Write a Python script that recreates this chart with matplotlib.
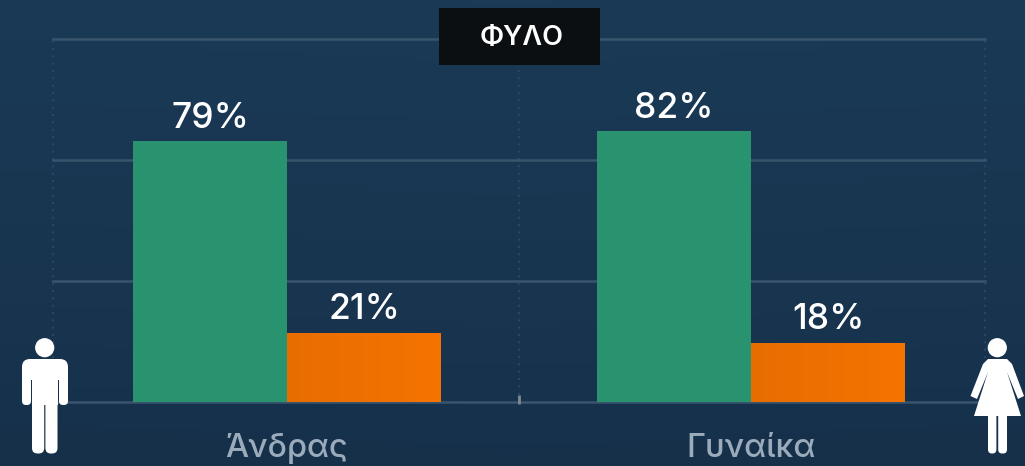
import matplotlib
matplotlib.use('Agg')
import matplotlib.pyplot as plt
from matplotlib.patches import Circle, FancyBboxPatch, Polygon
from matplotlib.colors import LinearSegmentedColormap
import numpy as np

# data
categories = ['Άνδρας', 'Γυναίκα']
yes_values = [79, 82]
no_values = [21, 18]
title = 'ΦΥΛΟ'

W, H = 1025, 466
FONT = 'Inter'
GREEN = '#29926f'
GRID = '#39556d'
DOT = '#2f4c65'


def round_box(ax, x0, y0, x1, y1, r):
    ax.add_patch(FancyBboxPatch((x0 + r, y0 + r), x1 - x0 - 2 * r, y1 - y0 - 2 * r,
                                boxstyle='round,pad=%f,rounding_size=%f' % (r, r),
                                fc='white', ec='none'))


def draw_man(ax):
    ax.add_patch(Circle((44.7, 347.7), 9.6, fc='white', ec='none'))
    round_box(ax, 22, 359, 68, 380, 8)
    round_box(ax, 22, 365, 31, 405, 4)
    round_box(ax, 59, 365, 68, 405, 4)
    ax.add_patch(Polygon([(32, 365), (58, 365), (58, 405), (32, 405)], fc='white', ec='none'))
    round_box(ax, 32, 395, 44.2, 453.5, 5.5)
    round_box(ax, 45.4, 395, 57.5, 453.5, 5.5)


def draw_woman(ax):
    ax.add_patch(Circle((997.3, 347.7), 9.6, fc='white', ec='none'))
    ax.add_patch(Polygon([(988, 359), (1007, 359), (1012, 364), (1024, 396), (1018, 399),
                          (1007, 372), (1021, 416), (974, 416), (988, 372), (977, 399),
                          (970.5, 396), (983, 364)], fc='white', ec='none', joinstyle='round'))
    round_box(ax, 988, 410, 996.4, 453.5, 4)
    round_box(ax, 998.2, 410, 1007, 453.5, 4)


fig = plt.figure(figsize=(W / 100, H / 100), dpi=100)

# background gradient
bg = fig.add_axes([0, 0, 1, 1], zorder=0)
bg.axis('off')
cmap = LinearSegmentedColormap.from_list('bg', ['#1a3a56', '#193651', '#16304a'])
yy, xx = np.mgrid[0:1:100j, 0:1:200j]
bg.imshow(yy + 0.1 * np.abs(xx - 0.5), cmap=cmap, aspect='auto', extent=(0, 1, 0, 1), vmin=0, vmax=1.05)

# chart
ax = fig.add_axes([53 / W, (H - 402) / H, 932 / W, 363 / H], zorder=1)
ax.patch.set_alpha(0)
x = np.arange(len(categories))
width = 154 / 464
bars_yes = ax.bar(x - width / 2, yes_values, width, color=GREEN, zorder=3)
bars_no = ax.bar(x + width / 2, no_values, width, color='none', zorder=3)

# orange bars are a soft left to right gradient
orange = LinearSegmentedColormap.from_list('orange', ['#e86d00', '#f57300'])
for b in bars_no:
    im = ax.imshow(np.linspace(0, 1, 64).reshape(1, -1), cmap=orange, aspect='auto', zorder=3,
                   extent=(b.get_x(), b.get_x() + b.get_width(), 0, b.get_height()))
    im.set_clip_path(b)

ax.set_xlim(-234 / 464, 1 + 234 / 464)
ax.set_ylim(0, 110)
ax.set_aspect('auto')

ax.set_yticks(np.linspace(0, 110, 4))
ax.set_yticklabels([])
ax.tick_params(length=0)
ax.grid(axis='y', color=GRID, lw=1.8, zorder=1, clip_on=False)
for name in ('top', 'right', 'left', 'bottom'):
    ax.spines[name].set_visible(False)
for pos in (0, 0.5, 1):
    ax.plot([pos, pos], [0, 1], transform=ax.transAxes, color=DOT, lw=1.2,
            ls=(0, (1.2, 3.2)), zorder=1, clip_on=False)
ax.plot([0.5, 0.5], [-0.006, 0.019], transform=ax.transAxes, color='#7d8a95', lw=2,
        zorder=2, clip_on=False, solid_capstyle='butt')

ax.set_xticks(x)
ax.set_xticklabels(categories, fontsize=23.5, color='#9aabbb', family=FONT, fontweight='medium')
ax.tick_params(axis='x', pad=22)

for bars in (bars_yes, bars_no):
    for b in bars:
        ax.annotate('%d%%' % b.get_height(), (b.get_x() + b.get_width() / 2, b.get_height()),
                    xytext=(0, 4.5), textcoords='offset points', ha='center', va='bottom',
                    fontsize=25.5, color='white', family=FONT, fontweight='medium', zorder=4)

# overlay: title box and icons, in pixel coordinates
top = fig.add_axes([0, 0, 1, 1], zorder=2)
top.set_xlim(0, W)
top.set_ylim(H, 0)
top.axis('off')
top.add_patch(plt.Rectangle((439, 8), 161, 57, fc='#0b0f12', ec='none'))
top.text(521.5, 38, title, color='white', fontsize=19.5, family=FONT, fontweight='semibold',
         ha='center', va='center')
draw_man(top)
draw_woman(top)

fig.savefig('out.png', dpi=100)
